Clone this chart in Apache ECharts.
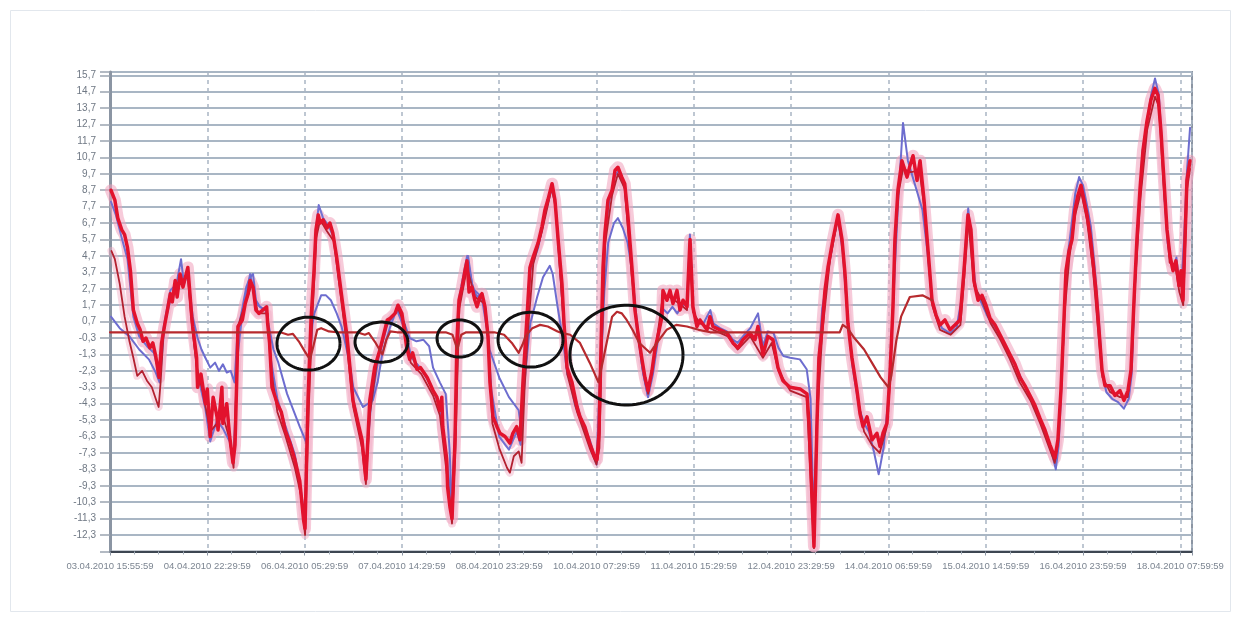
<!DOCTYPE html>
<html>
<head>
<meta charset="utf-8">
<script src="https://cdn.jsdelivr.net/npm/echarts@6/dist/echarts.min.js"></script>
<style>
  html, body { margin: 0; padding: 0; background: #ffffff; }
  #chart { width: 1242px; height: 623px; }
</style>
</head>
<body>
<div id="chart"></div>
<script>
// Time axis: one tick label every 10 sample steps
const tickLabels = [
  '03.04.2010 15:55:59', '04.04.2010 22:29:59', '06.04.2010 05:29:59',
  '07.04.2010 14:29:59', '08.04.2010 23:29:59', '10.04.2010 07:29:59',
  '11.04.2010 15:29:59', '12.04.2010 23:29:59', '14.04.2010 06:59:59',
  '15.04.2010 14:59:59', '16.04.2010 23:59:59', '18.04.2010 07:59:59'
];

// Main measured series [step, value]
const redMain = [[0.1,8.7],[0.5,8.1],[0.8,7.0],[1.2,6.3],[1.5,6.0],[1.8,5.2],[2.1,3.8],[2.4,1.4],[2.8,0.6],[3.1,0.2],[3.4,-0.5],[3.7,-0.3],[4.1,-0.9],[4.4,-0.6],[4.7,-1.4],[5.04,-2.7],[5.3,-0.6],[5.65,0.6],[5.9,1.4],[6.2,2.4],[6.4,1.9],[6.7,3.2],[6.9,2.2],[7.2,3.6],[7.5,2.8],[8.0,4.0],[8.4,1.0],[8.5,0.4],[8.9,-1.5],[9.0,-3.3],[9.35,-2.5],[9.8,-4.3],[10.0,-3.4],[10.3,-6.3],[10.6,-3.9],[11.0,-5.1],[11.1,-5.9],[11.5,-3.3],[11.6,-5.5],[12.0,-4.3],[12.3,-6.3],[12.64,-7.9],[12.85,-6.8],[13.05,-2.3],[13.15,0.4],[13.6,0.8],[13.9,1.8],[14.2,2.4],[14.4,3.2],[14.7,2.8],[15.0,1.4],[15.3,1.2],[15.7,1.4],[16.1,1.6],[16.2,0.6],[16.4,-0.6],[16.65,-3.3],[17.2,-4.3],[17.6,-4.8],[18.0,-5.9],[18.5,-6.7],[19.0,-7.7],[19.5,-9.0],[19.7,-10.2],[19.9,-11.4],[20.04,-11.9],[20.35,-4.1],[20.66,0.8],[20.97,3.8],[21.17,6.3],[21.4,7.2],[21.6,6.7],[21.9,6.9],[22.3,6.4],[22.6,6.7],[22.9,6.1],[23.3,4.6],[23.6,3.2],[23.95,1.6],[24.36,-0.2],[24.66,-2.1],[24.97,-4.1],[25.5,-5.5],[25.9,-6.5],[26.3,-8.9],[26.7,-4.1],[27.2,-2.1],[27.75,-1.0],[28.5,0.8],[28.8,0.9],[29.3,1.2],[29.6,1.7],[30.0,1.2],[30.5,-0.9],[30.8,-1.6],[31.1,-1.2],[31.55,-2.2],[31.9,-2.1],[32.6,-2.7],[33.2,-3.5],[33.6,-3.9],[33.9,-4.7],[34.1,-3.9],[34.2,-5.7],[34.6,-7.7],[34.7,-9.4],[34.94,-10.6],[35.15,-11.3],[35.46,-6.5],[35.66,-0.4],[35.87,2.0],[36.18,2.8],[36.48,3.8],[36.69,4.4],[36.9,2.5],[37.2,2.8],[37.5,2.0],[37.72,1.6],[38.02,2.2],[38.23,2.4],[38.54,1.6],[38.85,-0.2],[39.05,-3.0],[39.36,-5.1],[39.77,-5.7],[40.08,-6.1],[40.6,-6.3],[41.1,-6.7],[41.4,-6.1],[41.8,-5.7],[42.14,-6.5],[42.44,-3.0],[42.86,1.0],[43.16,4.0],[43.47,4.6],[44.0,5.5],[44.4,6.5],[44.7,7.5],[45.0,8.1],[45.43,9.1],[45.73,8.1],[46.04,5.8],[46.45,3.0],[46.66,0.6],[46.97,-2.1],[47.48,-3.0],[48.0,-4.5],[48.3,-5.1],[48.8,-5.7],[49.3,-6.7],[49.84,-7.6],[50.05,-7.7],[50.25,-6.1],[50.46,-1.0],[50.67,4.0],[50.87,6.1],[51.18,8.1],[51.6,8.7],[51.9,9.9],[52.2,10.1],[52.6,9.5],[52.9,9.1],[53.23,7.1],[53.64,4.0],[53.95,1.4],[54.26,0.0],[54.67,-1.6],[54.98,-2.7],[55.29,-3.5],[55.7,-2.3],[56.0,-1.0],[56.3,-0.2],[56.73,1.0],[56.83,2.6],[57.24,2.0],[57.55,2.6],[57.86,1.8],[58.27,2.6],[58.58,1.4],[58.89,2.0],[59.3,1.6],[59.61,5.7],[59.91,1.6],[60.32,0.4],[60.63,0.8],[61.35,0.2],[61.66,1.0],[61.97,0.4],[62.69,0.2],[63.41,0.0],[64.02,-0.6],[64.54,-0.9],[65.05,-0.4],[65.77,0.0],[66.29,-0.4],[66.59,0.4],[67.11,-1.3],[67.62,-0.2],[68.13,-0.4],[68.65,-2.1],[69.16,-2.9],[69.88,-3.3],[70.91,-3.4],[71.63,-3.7],[71.84,-5.5],[72.04,-8.5],[72.35,-13.0],[72.45,-10.6],[72.66,-5.5],[72.86,-1.5],[73.17,0.2],[73.48,2.6],[73.79,4.0],[74.3,5.7],[74.82,7.2],[75.23,5.7],[75.54,3.6],[75.84,0.6],[76.25,-1.5],[76.77,-3.5],[77.08,-4.9],[77.39,-5.7],[77.8,-5.1],[78.31,-6.5],[78.82,-6.1],[79.13,-6.9],[79.44,-6.1],[79.85,-5.5],[80.16,-2.5],[80.47,1.6],[80.67,5.7],[80.98,8.7],[81.39,10.5],[81.91,9.5],[82.22,10.2],[82.53,10.8],[82.94,9.3],[83.25,10.5],[83.66,8.1],[84.07,5.05],[84.48,2.0],[84.89,1.1],[85.3,0.5],[85.81,0.8],[86.33,0.2],[86.84,0.5],[87.35,0.8],[87.77,3.8],[88.18,7.2],[88.48,6.3],[88.79,3.2],[89.21,2.0],[89.62,2.3],[90.03,1.7],[90.44,0.9],[90.95,0.5],[91.47,-0.1],[91.98,-0.7],[92.49,-1.3],[93.01,-1.9],[93.52,-2.7],[94.03,-3.2],[94.55,-3.8],[95.06,-4.4],[95.58,-5.2],[96.09,-5.9],[96.6,-6.8],[97.12,-7.6],[97.42,-6.5],[97.73,-3.5],[98.04,0.8],[98.25,3.8],[98.56,5.0],[98.87,5.7],[99.17,7.5],[99.48,8.4],[99.79,9.0],[100.1,8.1],[100.41,7.2],[100.72,6.0],[101.02,4.4],[101.33,2.6],[101.64,0.2],[101.95,-2.25],[102.26,-3.2],[102.77,-3.2],[103.28,-3.8],[103.8,-3.5],[104.21,-4.1],[104.62,-3.5],[104.93,-2.25],[105.24,2.0],[105.54,5.7],[105.85,8.7],[106.16,11.1],[106.57,12.9],[106.98,14.2],[107.39,14.9],[107.7,14.5],[108.01,12.3],[108.32,9.3],[108.63,6.3],[108.94,4.7],[109.25,3.8],[109.55,4.4],[109.86,2.9],[110.07,3.8],[110.27,2.0],[110.48,5.7],[110.68,9.3],[110.99,10.5]];

// Second measured series (dark red)
const redSecond = [[0.15,5.0],[0.5,4.5],[1.0,3.0],[1.5,1.0],[2.0,-0.5],[2.4,-1.5],[2.8,-2.6],[3.3,-2.3],[3.8,-2.9],[4.3,-3.3],[4.7,-4.0],[5.0,-4.5],[5.2,-3.0],[5.5,0.0],[6.0,1.8],[6.7,2.8],[7.3,3.2],[8.0,3.4],[8.4,0.6],[8.9,-2.0],[9.5,-3.5],[10.3,-6.0],[11.0,-5.5],[11.6,-5.0],[12.3,-6.5],[12.7,-8.2],[13.0,-3.0],[13.2,0.5],[14.0,2.0],[14.6,3.0],[15.2,1.2],[16.2,1.2],[16.5,-2.0],[17.2,-4.8],[18.0,-6.2],[19.0,-8.2],[19.6,-9.8],[20.05,-12.3],[20.4,-5.0],[20.8,1.0],[21.2,5.8],[21.6,6.9],[22.3,6.2],[23.0,5.6],[23.6,2.8],[24.3,-0.5],[25.0,-4.5],[25.9,-7.0],[26.3,-9.2],[26.7,-5.0],[27.5,-1.5],[28.5,0.6],[29.6,1.5],[30.3,0.5],[30.9,-1.8],[32.0,-2.5],[33.2,-3.8],[33.9,-5.0],[34.7,-9.0],[35.15,-11.6],[35.5,-7.0],[35.9,1.5],[36.7,4.0],[37.5,2.2],[38.5,1.8],[38.9,-0.8],[39.3,-5.5],[40.0,-7.0],[40.8,-8.2],[41.1,-8.5],[41.5,-7.5],[42.0,-7.2],[42.3,-7.9],[42.6,-3.5],[43.0,0.5],[43.5,4.2],[44.4,6.2],[45.0,7.8],[45.4,8.9],[45.8,7.6],[46.4,2.5],[47.0,-2.5],[48.0,-4.8],[49.3,-7.0],[50.0,-8.0],[50.3,-7.0],[50.5,-1.5],[50.9,5.5],[51.6,8.4],[52.2,9.7],[52.9,8.8],[53.6,3.6],[54.3,-0.4],[55.3,-3.7],[56.0,-1.3],[56.8,2.2],[57.5,2.2],[58.5,1.8],[59.3,1.4],[59.6,5.3],[59.9,1.3],[60.6,0.6],[62.0,0.2],[63.5,-0.2],[64.5,-1.0],[65.8,-0.2],[67.1,-1.5],[68.0,-0.6],[68.7,-2.3],[69.9,-3.5],[71.6,-3.9],[72.0,-8.8],[72.35,-13.1],[72.6,-6.0],[73.2,0.0],[74.0,4.5],[74.8,7.0],[75.3,5.2],[75.9,0.2],[76.8,-3.8],[77.5,-6.0],[78.3,-6.8],[79.1,-7.3],[79.8,-5.8],[80.2,-2.8],[80.6,4.5],[81.0,8.4],[81.5,10.0],[82.3,9.8],[83.2,9.9],[83.7,7.6],[84.1,4.6],[84.5,1.7],[85.3,0.2],[86.4,-0.1],[87.4,0.5],[87.8,3.4],[88.2,6.9],[88.8,2.9],[89.6,2.0],[90.5,0.6],[91.5,-0.4],[92.5,-1.6],[93.5,-3.0],[94.6,-4.1],[95.6,-5.5],[96.6,-7.1],[97.1,-7.9],[97.4,-6.8],[97.8,-3.0],[98.1,1.2],[98.6,4.6],[99.2,7.2],[99.8,8.6],[100.4,6.9],[101.0,4.0],[101.6,-0.2],[102.0,-2.7],[102.8,-3.6],[103.8,-3.9],[104.6,-3.9],[105.0,-2.0],[105.3,2.5],[105.9,8.2],[106.6,12.4],[107.4,14.4],[107.8,13.8],[108.3,8.8],[108.9,4.3],[109.5,4.0],[109.9,2.5],[110.3,1.7],[110.7,8.8],[111.0,10.0]];

// Blue series (first sensor)
const blueA = [[0.1,1.0],[1.0,0.3],[2.0,-0.2],[3.0,-1.0],[4.0,-1.6],[4.7,-2.4],[5.1,-3.0],[5.6,0.5],[6.2,2.0],[6.9,3.2],[7.3,4.5],[7.6,3.0],[8.0,3.6],[8.4,1.5],[8.5,1.0],[9.0,-0.3],[9.4,-1.0],[9.8,-1.5],[10.3,-2.1],[10.8,-1.8],[11.2,-2.3],[11.6,-1.9],[12.0,-2.4],[12.4,-2.3],[12.8,-3.0],[13.1,0.0],[13.6,1.5],[14.0,2.8],[14.4,3.4],[14.7,3.6],[15.0,2.0],[15.4,1.6],[16.0,1.4],[16.3,0.5],[16.8,-1.0],[17.3,-1.8],[18.2,-3.7],[19.5,-5.7],[20.2,-6.7],[20.5,-2.0],[20.8,0.5],[21.0,1.2],[21.7,2.3],[22.2,2.3],[22.7,2.0],[23.3,1.2],[23.8,0.4],[24.4,-1.2],[24.7,-2.1],[25.0,-3.3],[26.0,-4.5],[26.5,-4.3],[27.0,-4.1],[27.5,-3.0],[28.0,-1.2],[28.8,0.4],[29.5,1.5],[30.0,1.0],[30.8,-0.3],[31.5,-0.5],[32.2,-0.4],[32.8,-0.8],[33.2,-2.1],[33.9,-3.0],[34.5,-3.7],[34.9,-7.1],[35.15,-10.8],[35.5,-5.0],[35.8,1.5],[36.3,3.0],[36.8,4.7],[37.2,3.0],[37.7,2.2],[38.2,2.4],[38.6,1.4],[38.9,-0.3],[39.0,-1.0],[40.0,-2.7],[41.0,-3.9],[42.0,-4.7],[42.3,-6.0],[42.6,-3.0],[43.0,-0.5],[43.2,0.6],[43.9,2.2],[44.5,3.4],[45.2,4.1],[45.5,3.6],[46.0,1.6],[46.5,-0.2],[47.0,-2.5],[47.5,-3.2],[48.3,-5.0],[49.3,-6.5],[50.0,-7.9],[50.3,-6.0],[50.5,-1.5],[50.8,2.5],[51.2,5.5],[51.8,6.7],[52.2,7.0],[52.7,6.4],[53.2,5.5],[53.6,4.0],[54.1,1.0],[54.7,-2.1],[55.3,-3.9],[55.8,-2.5],[56.3,-0.5],[56.8,1.5],[57.3,1.2],[57.8,1.6],[58.3,1.2],[58.8,1.7],[59.3,1.8],[59.6,6.0],[59.9,1.6],[60.3,0.6],[61.0,0.6],[61.7,1.4],[62.0,0.6],[62.7,0.3],[63.4,0.1],[64.0,-0.4],[64.5,-0.6],[65.2,-0.1],[65.8,0.3],[66.6,1.2],[67.1,-0.8],[67.6,0.1],[68.2,0.0],[68.7,-0.9],[69.2,-1.4],[69.9,-1.5],[70.9,-1.6],[71.6,-2.2],[72.0,-4.0],[72.3,-11.1],[72.5,-8.0],[72.8,-2.0],[73.2,1.5],[73.4,2.2],[73.8,3.8],[74.3,5.5],[74.8,7.0],[75.3,5.0],[75.8,1.0],[76.3,-2.0],[77.0,-4.6],[77.5,-5.5],[78.0,-6.0],[78.5,-7.2],[79.0,-8.6],[79.5,-7.0],[80.0,-4.0],[80.5,2.0],[81.0,8.0],[81.5,12.8],[82.0,10.5],[82.5,9.5],[83.0,8.5],[83.5,7.5],[84.0,5.0],[84.5,2.0],[85.0,1.0],[85.5,0.3],[86.3,0.0],[87.0,0.3],[87.5,2.0],[88.2,7.6],[88.6,5.0],[89.0,2.5],[89.6,1.8],[90.2,1.0],[91.0,0.3],[92.0,-0.8],[93.0,-1.9],[94.0,-3.2],[95.0,-4.5],[96.0,-6.0],[96.8,-7.3],[97.2,-8.3],[97.5,-6.8],[97.8,-3.0],[98.1,1.5],[98.4,4.5],[98.8,6.5],[99.2,8.5],[99.6,9.5],[100.0,9.0],[100.4,7.8],[100.8,6.5],[101.2,4.0],[101.6,1.0],[102.0,-2.5],[102.4,-3.6],[103.0,-4.0],[103.6,-4.2],[104.2,-4.6],[104.7,-4.0],[105.0,-2.5],[105.3,2.5],[105.7,7.0],[106.1,11.0],[106.6,13.0],[107.0,14.5],[107.4,15.5],[107.8,14.5],[108.1,11.5],[108.4,8.0],[108.7,5.5],[109.0,4.5],[109.3,4.0],[109.6,4.6],[109.9,3.0],[110.2,3.8],[110.4,6.0],[110.7,10.0],[111.0,12.5]];

// Blue series (second sensor)
const blueB = [[0.1,8.0],[0.6,7.2],[1.2,5.8],[1.8,4.5],[2.4,1.0],[3.0,-0.2],[3.8,-0.8],[4.5,-1.2],[5.04,-2.4],[5.4,0.0],[6.2,2.6],[7.2,3.2],[8.0,3.6],[8.4,0.8],[9.0,-2.5],[9.8,-4.6],[10.3,-6.6],[11.0,-5.3],[11.6,-5.8],[12.3,-6.6],[12.7,-7.6],[13.1,-1.5],[13.6,1.2],[14.4,3.6],[15.0,1.8],[16.1,1.3],[16.5,-1.5],[17.2,-4.0],[18.0,-5.6],[19.0,-7.4],[19.6,-9.5],[20.0,-11.2],[20.4,-3.5],[20.8,2.0],[21.2,6.5],[21.45,7.8],[21.9,7.0],[22.5,6.5],[23.0,5.8],[23.6,3.0],[24.3,0.0],[25.0,-4.0],[25.7,-6.0],[26.3,-8.3],[26.8,-4.5],[27.6,-1.5],[28.5,0.5],[29.5,1.4],[30.3,0.2],[31.0,-1.5],[32.0,-2.2],[33.0,-3.2],[33.9,-4.5],[34.6,-7.5],[35.1,-10.6],[35.5,-5.5],[35.9,2.2],[36.7,4.7],[37.3,2.7],[38.2,2.2],[38.8,0.0],[39.2,-3.5],[40.0,-6.3],[41.0,-7.1],[41.8,-6.0],[42.2,-6.8],[42.6,-2.0],[43.2,3.8],[44.0,5.2],[44.7,7.2],[45.4,8.8],[45.8,7.8],[46.3,3.5],[46.9,-1.8],[47.8,-4.4],[48.8,-5.9],[49.5,-7.1],[50.0,-8.0],[50.4,-2.0],[50.8,5.5],[51.3,8.0],[51.9,9.6],[52.3,9.9],[52.9,8.8],[53.5,5.0],[54.1,0.5],[54.8,-2.5],[55.3,-3.9]];

// Computed series (thin dark red)
const modelLine = [[0,0.05],[17.5,0.05],[18.3,-0.1],[18.8,-0.05],[19.4,-0.5],[20.0,-1.1],[20.55,-1.6],[20.9,-0.8],[21.3,0.2],[21.7,0.3],[22.5,0.1],[23.3,0.05],[25.4,0.05],[26.2,-0.1],[26.6,0.0],[27.3,-0.6],[28.0,-1.3],[28.4,-0.4],[28.8,0.1],[29.5,0.05],[34.5,0.05],[35.2,-0.1],[35.7,-1.0],[36.1,-0.1],[36.6,0.05],[39.5,0.05],[40.5,-0.1],[41.3,-0.6],[42.0,-1.2],[42.4,-0.7],[42.7,-0.2],[43.4,0.3],[44.2,0.5],[45.0,0.4],[46.0,0.1],[46.5,0.0],[47.3,-0.1],[48.3,-0.6],[49.3,-1.8],[50.2,-3.0],[50.9,-1.0],[51.6,1.0],[52.1,1.3],[52.6,1.2],[53.1,0.8],[53.7,0.2],[54.4,-0.6],[55.5,-1.2],[56.2,-0.6],[57.2,0.2],[58.2,0.5],[59.3,0.4],[60.5,0.2],[61.7,0.05],[75.0,0.05],[75.3,0.5],[75.8,0.3],[76.5,-0.3],[77.5,-1.0],[78.3,-1.8],[79.2,-2.7],[80.0,-3.3],[80.3,-2.6],[80.8,-0.5],[81.3,1.0],[82.2,2.2],[83.5,2.3],[84.5,2.0]];

// Hand-drawn ring annotations: [centre step, centre value, radius in steps, radius in value]
const rings = [
  [20.40, -0.64, 3.24, 1.61],
  [27.90, -0.55, 2.72, 1.22],
  [35.92, -0.33, 2.31, 1.13],
  [43.22, -0.40, 3.34, 1.67],
  [53.08, -1.34, 5.81, 3.04]
];

const chart = echarts.init(document.getElementById('chart'), null, { renderer: 'canvas' });

function line(name, data, color, width, z) {
  return {
    name, type: 'line', data, z,
    showSymbol: false, symbol: 'none', smooth: false,
    lineStyle: { color, width, join: 'round', cap: 'round' },
    silent: true
  };
}

const labelFont = 'Liberation Sans, Arial, sans-serif';

const option = {
  animation: false,
  backgroundColor: '#ffffff',
  graphic: [{
    type: 'rect', z: -10,
    shape: { x: 10.5, y: 10.5, width: 1220, height: 601 },
    style: { fill: 'none', stroke: '#e2e7ed', lineWidth: 1 }
  }],
  grid: {
    left: 110, right: 50, top: 72, bottom: 71.5,
    show: true, borderColor: '#8b95a3', borderWidth: 2, backgroundColor: '#ffffff'
  },
  xAxis: {
    type: 'value', min: 0, max: 111.2, interval: 10,
    axisLine: { show: true, onZero: false, lineStyle: { color: '#3d4652', width: 2 } },
    axisTick: { show: true, length: 4, lineStyle: { color: '#8b95a3' } },
    minorTick: { show: true, splitNumber: 4, length: 3, lineStyle: { color: '#a5afbb' } },
    splitLine: { show: true, lineStyle: { color: '#a9b5c3', width: 1.5, type: [4, 4] } },
    axisLabel: {
      interval: 0, hideOverlap: false, showMinLabel: true, showMaxLabel: true,
      color: '#7c8591', fontSize: 9.5, fontFamily: labelFont, margin: 10,
      formatter: function (v) {
        const i = Math.round(v / 10);
        return Math.abs(v - i * 10) < 1e-6 && tickLabels[i] ? tickLabels[i] : '';
      }
    }
  },
  yAxis: {
    type: 'value', min: -13.3, max: 15.9, interval: 1,
    axisLine: { show: true, onZero: false, lineStyle: { color: '#8b95a3', width: 3 } },
    axisTick: { show: true, length: 10, lineStyle: { color: '#9aa4b0', width: 1.5 } },
    splitLine: { show: true, lineStyle: { color: '#a9b6c4', width: 2 } },
    axisLabel: {
      color: '#6f7884', fontSize: 10, fontFamily: labelFont, margin: 14,
      formatter: function (v) {
        const k = Math.round(v * 10) / 10;
        const r = k + 13.3;
        if (k < -13 || Math.abs(r - Math.round(r)) > 0.01) return '';
        return k.toFixed(1).replace('.', ',');
      }
    }
  },
  series: [
    line('halo-main', redMain, 'rgba(240,160,188,0.55)', 12, 1),
    line('halo-second', redSecond, 'rgba(240,170,195,0.45)', 8, 1),
    line('Sensor B2', blueB, '#7272d2', 2, 2),
    line('Sensor B1', blueA, '#6d6dcf', 2, 3),
    line('Sensor R2', redSecond, '#b3202f', 1.8, 4),
    line('Sensor R1', redMain, '#e2122d', 3.5, 5),
    line('Model', modelLine, '#b72a2e', 2.2, 6),
    {
      name: 'rings', type: 'custom', z: 10, clip: false, silent: true,
      data: rings,
      encode: { x: 0, y: 1 },
      renderItem: function (params, api) {
        const c = api.coord([api.value(0), api.value(1)]);
        const s = api.size([api.value(2), api.value(3)]);
        const pts = [];
        for (let k = 0; k <= 90; k++) {
          const a = k / 90 * Math.PI * 2;
          pts.push([c[0] + s[0] * Math.cos(a), c[1] + s[1] * Math.sin(a)]);
        }
        return {
          type: 'polyline',
          shape: { points: pts },
          style: { fill: 'none', stroke: '#111111', lineWidth: 3 }
        };
      }
    }
  ]
};

chart.setOption(option);
</script>
</body>
</html>
